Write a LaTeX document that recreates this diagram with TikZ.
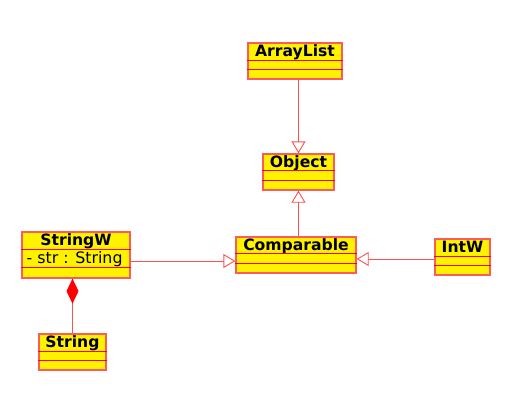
\documentclass[tikz,border=0pt]{standalone}
\usepackage{fontspec}
\setmainfont{DejaVu Sans}
\usetikzlibrary{arrows.meta}

\definecolor{boxred}{RGB}{255,90,90}
\definecolor{linkred}{RGB}{255,80,80}

\tikzset{
	classbox/.style={draw=boxred, fill=yellow, line width=1.3pt, inner sep=0pt},
	sepline/.style={draw=red, line width=0.8pt},
	classname/.style={font=\bfseries\fontsize{15.6}{16}\selectfont, anchor=base, inner sep=0pt},
	classattr/.style={font=\fontsize{15.8}{16}\selectfont, anchor=base west, inner sep=0pt},
	inherit/.style={draw=linkred, line width=0.9pt, -{Triangle[length=12pt, width=14pt, fill=white]}},
	compose/.style={draw=linkred, line width=0.9pt, -{Diamond[length=25pt, width=12pt, fill=red, color=red]}}
}

\begin{document}
\begin{tikzpicture}[x=1pt, y=-1pt]

	\useasboundingbox (0,0) rectangle (526,413);

	% classes
	\node[classbox, minimum width=94, minimum height=36] (arraylist) at (295,61) {};
	\node[classbox, minimum width=71, minimum height=36] (object) at (298.5,172) {};
	\node[classbox, minimum width=120, minimum height=36] (comparable) at (296,255) {};
	\node[classbox, minimum width=55, minimum height=36] (intw) at (462.5,257) {};
	\node[classbox, minimum width=108, minimum height=46] (stringw) at (76,255) {};
	\node[classbox, minimum width=67, minimum height=36] (string) at (72.5,352) {};

	% names
	\node[classname] (arraylist-t) at (295,56.5) {ArrayList};
	\node[classname] (object-t) at (298.5,167.5) {Object};
	\node[classname] (comparable-t) at (296,250.5) {Comparable};
	\node[classname] (intw-t) at (462.5,252.5) {IntW};
	\node[classname] (stringw-t) at (76,245.5) {StringW};
	\node[classname] (string-t) at (72.5,347.5) {String};
	\node[classattr] (stringw-a) at (26.5,263.5) {- str : String};

	% compartments
	\foreach \n / \d in {
	arraylist/18, arraylist/27,
	object/17, object/27,
	comparable/17, comparable/27,
	intw/18, intw/27,
	stringw/18, stringw/36,
	string/18, string/27}
	{
		\draw[sepline] ([yshift=-\d pt]\n.north west) -- ([yshift=-\d pt]\n.north east);
	};

	% links
	\draw[inherit] (object.north |- arraylist.south) -- (object.north);
	\draw[inherit] (object.south |- comparable.north) -- (object.south);
	\draw[inherit] ([yshift=-6pt]stringw.east) -- ([yshift=-6pt]comparable.west);
	\coordinate (intw-in) at ([yshift=-2pt]intw.west);
	\draw[inherit] (intw-in) -- (intw-in -| comparable.east);
	\draw[compose] (string.north) -- (string.north |- stringw.south);

\end{tikzpicture}
\end{document}
